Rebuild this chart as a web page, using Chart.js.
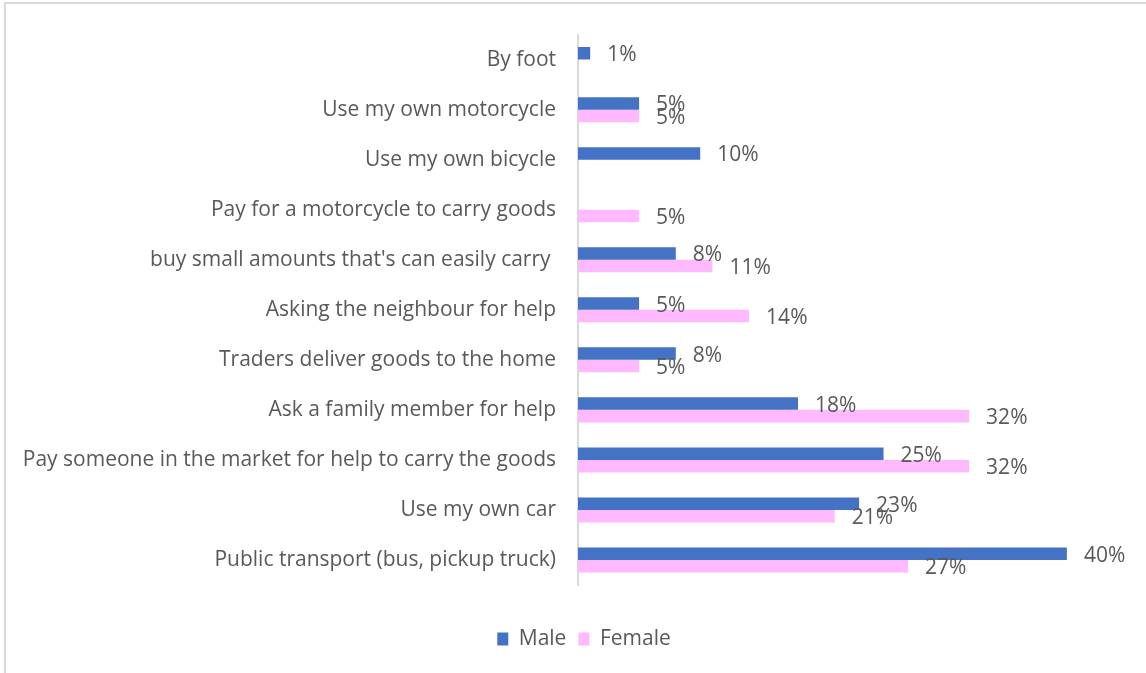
<!DOCTYPE html>
<html>
<head>
<meta charset="utf-8">
<script src="https://cdn.jsdelivr.net/npm/chart.js@4.4.0/dist/chart.umd.min.js"></script>
<style>
  html, body { margin: 0; padding: 0; background: #ffffff; overflow: hidden; }
  #wrap { position: relative; width: 1146px; height: 673px; }
  #frame { position: absolute; left: 4px; top: 2px; width: 1300px; height: 900px; border: 2px solid #d9d9d9; box-sizing: border-box; }
  #c { position: absolute; left: 0; top: 0; }
</style>
</head>
<body>
<div id="wrap">
  <div id="frame"></div>
  <canvas id="c" width="1146" height="673"></canvas>
</div>
<script>
const categories = [
  "By foot",
  "Use my own motorcycle",
  "Use my own bicycle",
  "Pay for a motorcycle to carry goods",
  "buy small amounts that's can easily carry ",
  "Asking the neighbour for help",
  "Traders deliver goods to the home",
  "Ask a family member for help",
  "Pay someone in the market for help to carry the goods",
  "Use my own car",
  "Public transport (bus, pickup truck)"
];
const maleValues   = [1, 5, 10, null, 8, 5, 8, 18, 25, 23, 40];
const femaleValues = [null, 5, null, 5, 11, 14, 5, 32, 32, 21, 27];
const seriesNames = ["Male", "Female"];

const FONT = "'Open Sans', 'Noto Sans', sans-serif";
const FONT_SIZE = 21;
const TEXT_COLOR = "#595959";

const valueLabels = {
  id: 'valueLabels',
  afterDatasetsDraw(chart) {
    const ctx = chart.ctx;
    ctx.save();
    ctx.font = FONT_SIZE + "px " + FONT;
    ctx.fillStyle = TEXT_COLOR;
    ctx.textAlign = 'left';
    ctx.textBaseline = 'middle';
    chart.data.datasets.forEach((ds, di) => {
      const meta = chart.getDatasetMeta(di);
      meta.data.forEach((bar, i) => {
        const v = ds.data[i];
        if (v === null || v === undefined) return;
        ctx.fillText(v + '%', bar.x + 17, bar.y + 2);
      });
    });
    ctx.restore();
  }
};

const legendMover = {
  id: 'legendMover',
  afterLayout(chart) {
    const lg = chart.legend;
    if (!lg) return;
    const h = lg.height;
    lg.top = 638 - h / 2;
    lg.bottom = lg.top + h;
    lg.left += 20;
    lg.right += 20;
  }
};

new Chart(document.getElementById('c'), {
  type: 'bar',
  data: {
    labels: categories,
    datasets: [
      { label: seriesNames[0], data: maleValues, backgroundColor: '#4472C4', barPercentage: 1.0, categoryPercentage: 0.5 },
      { label: seriesNames[1], data: femaleValues, backgroundColor: '#FFB9FF', barPercentage: 1.0, categoryPercentage: 0.5 }
    ]
  },
  options: {
    indexAxis: 'y',
    responsive: false,
    animation: false,
    maintainAspectRatio: false,
    layout: { padding: { top: 30, right: 18, left: 0, bottom: 45 } },
    scales: {
      x: { type: 'linear', min: 0, max: 45, display: false },
      y: {
        grid: { display: false, drawTicks: false },
        border: { display: true, color: '#d9d9d9', width: 2 },
        ticks: { color: TEXT_COLOR, font: { family: FONT, size: FONT_SIZE }, padding: 22 },
        afterFit(scale) { scale.width = 578; }
      }
    },
    plugins: {
      legend: {
        position: 'bottom',
        labels: {
          color: TEXT_COLOR,
          font: { family: FONT, size: FONT_SIZE },
          boxWidth: 11,
          boxHeight: 13,
          padding: 12
        }
      },
      tooltip: { enabled: false }
    }
  },
  plugins: [valueLabels, legendMover]
});
</script>
</body>
</html>
